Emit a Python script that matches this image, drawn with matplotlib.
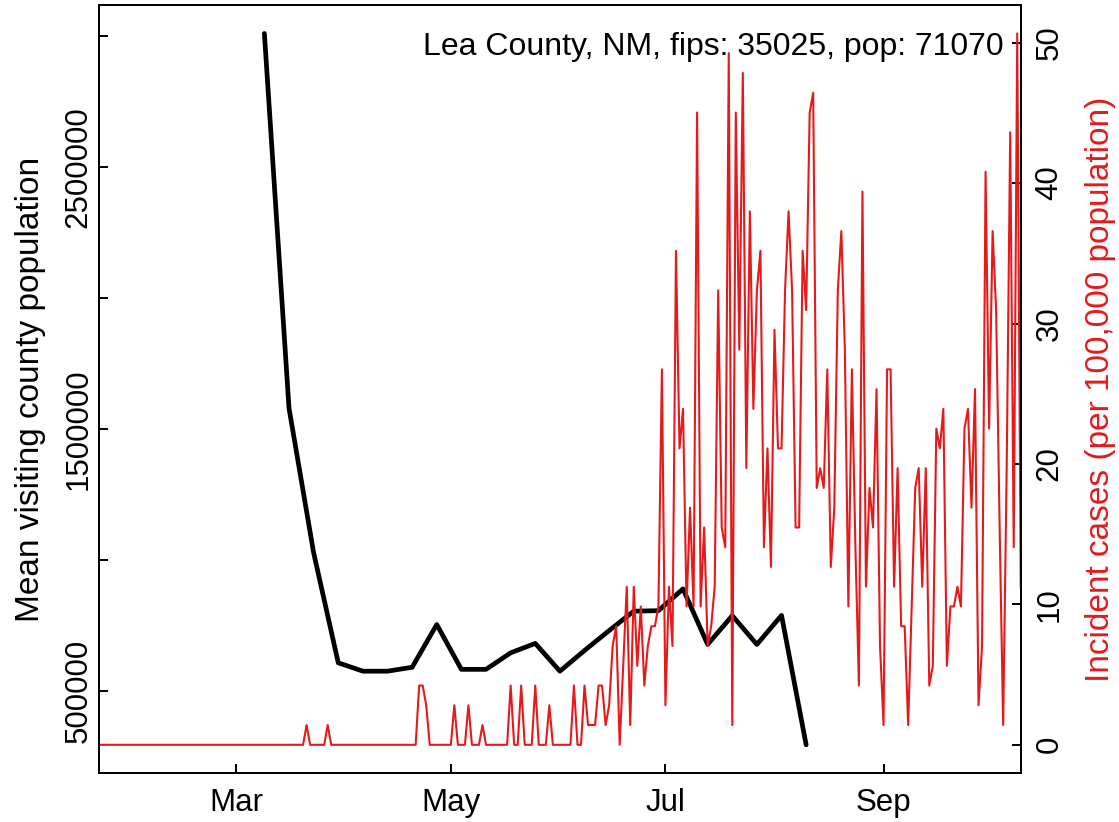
import numpy as np
import pandas as pd
import matplotlib
matplotlib.use("Agg")
from matplotlib import pyplot as plt

# County info
county_label = "Lea County, NM, fips: 35025, pop: 71070"
county_pop = 71070

# Mean visiting county population, weekly
visit_weeks = pd.date_range("2020-03-09", "2020-08-10", freq="7D")
visit_pop = [3011000, 1581000, 1029000, 609000, 577000, 577000, 592000,
             755000, 584000, 584000, 647000, 683000, 577000, 656000,
             732000, 806000, 808000, 891000, 679000, 789000, 679000,
             790000, 296000]

# Daily new cases (Jan 22 - Oct 10)
cases_jan = [0] * 10
cases_feb = [0] * 29
cases_mar = [0] * 20 + [1, 0, 0, 0, 0, 0, 1, 0, 0, 0, 0]
cases_apr = [0] * 21 + [3, 3, 2, 0, 0, 0, 0, 0, 0]
cases_may = [0, 2, 0, 0, 0, 2, 0, 0, 0, 1, 0, 0, 0, 0, 0, 0, 0, 3, 0, 0,
             3, 0, 0, 0, 3, 0, 0, 0, 2, 0, 0]
cases_jun = [0, 0, 0, 0, 3, 0, 0, 3, 1, 1, 1, 3, 3, 1, 2, 5, 6, 0, 4, 8,
             1, 8, 4, 7, 3, 5, 6, 6, 7, 19]
cases_jul = [2, 8, 5, 25, 15, 17, 7, 12, 7, 32, 7, 11, 5, 6, 8, 23, 11, 10,
             35, 1, 32, 20, 34, 14, 27, 17, 23, 25, 10, 15, 9]
cases_aug = [21, 15, 15, 23, 27, 23, 11, 11, 25, 22, 32, 33, 13, 14, 13, 19,
             9, 12, 23, 26, 20, 7, 19, 10, 3, 28, 8, 13, 11, 18, 5]
cases_sep = [1, 19, 19, 8, 14, 6, 6, 1, 7, 13, 14, 8, 14, 3, 4, 16, 15, 17,
             4, 7, 7, 8, 7, 16, 17, 12, 18, 2, 5, 29]
cases_oct = [16, 26, 22, 11, 1, 14, 31, 10, 36, 8]

daily_cases = (cases_jan + cases_feb + cases_mar + cases_apr + cases_may
               + cases_jun + cases_jul + cases_aug + cases_sep + cases_oct)
case_dates = pd.date_range("2020-01-22", periods=len(daily_cases), freq="D")
incidence = np.array(daily_cases) / county_pop * 1e5

# Axis ticks
month_ticks = pd.to_datetime(["2020-03-01", "2020-05-01", "2020-07-01", "2020-09-01"])
month_labels = ["Mar", "May", "Jul", "Sep"]
pop_ticks = [500000, 1000000, 1500000, 2000000, 2500000, 3000000]
pop_labels = ["500000", "", "1500000", "", "2500000", ""]
inc_ticks = [0, 10, 20, 30, 40, 50]

red = "#E41A1C"
fs = 22.5

plt.rcParams["font.family"] = ["Liberation Sans", "DejaVu Sans"]

fig = plt.figure(figsize=(11.19, 8.22), dpi=100)
ax = fig.add_axes([0.0885, 0.0593, 0.8237, 0.9346])

ax.plot(visit_weeks, visit_pop, color="black", lw=3.4,
        solid_capstyle="round", solid_joinstyle="round")
lo, hi = min(visit_pop), max(visit_pop)
ax.set_ylim(lo - 0.04 * (hi - lo), hi + 0.04 * (hi - lo))
ax.set_xlim(case_dates[0], case_dates[-1])

ax2 = ax.twinx()
ax2.plot(case_dates, incidence, color=red, lw=1.5)
lo, hi = incidence.min(), incidence.max()
ax2.set_ylim(lo - 0.04 * (hi - lo), hi + 0.04 * (hi - lo))

# ticks
ax.set_xticks(month_ticks)
ax.set_xticklabels(month_labels)
ax.set_yticks(pop_ticks)
ax.set_yticklabels(pop_labels)
ax2.set_yticks(inc_ticks)
ax2.set_yticklabels([str(t) for t in inc_ticks])

ax.tick_params(axis="both", direction="in", length=6.5, width=1.4, labelsize=fs)
ax.tick_params(axis="x", pad=10.4)
ax.tick_params(axis="y", pad=3.9, labelrotation=90)
ax2.tick_params(axis="y", direction="in", length=6.5, width=1.4, labelsize=fs,
                pad=10, labelrotation=90)
for lbl in ax.get_yticklabels() + ax2.get_yticklabels():
    lbl.set_va("center")

for a in (ax, ax2):
    for sp in a.spines.values():
        sp.set_linewidth(1.4)

ax.set_ylabel("Mean visiting county population", fontsize=24, va="center")
ax.yaxis.set_label_coords(-0.074, 0.5)
ax2.set_ylabel("Incident cases (per 100,000 population)", fontsize=24,
               color=red, va="center")
ax2.yaxis.set_label_coords(1.0866, 0.5)

ax.text(0.9819, 0.9349, county_label, transform=ax.transAxes, fontsize=23,
        ha="right", va="baseline")

fig.savefig("out.png", dpi=100)
